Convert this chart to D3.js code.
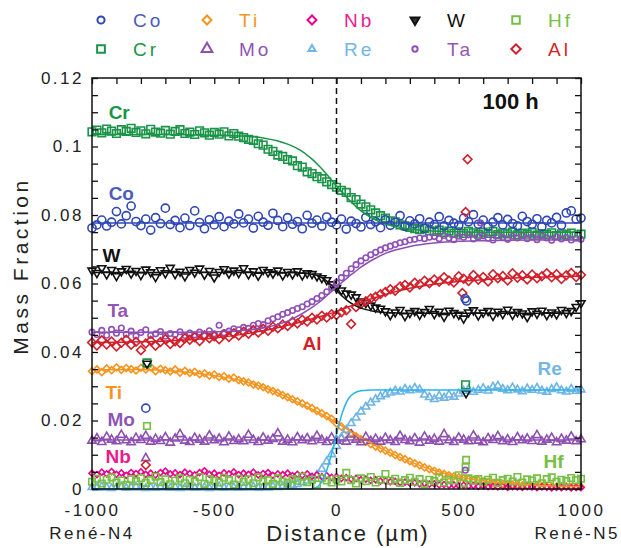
<!DOCTYPE html>
<html>
<head>
<meta charset="utf-8">
<script src="https://cdn.jsdelivr.net/npm/d3@7"></script>
<style>
  body { margin: 0; background: #fff; }
  svg { font-family: "Liberation Sans", Arial, sans-serif; }
</style>
</head>
<body>
<svg class="canvasClass" width="621" height="548"></svg>
<script>
// line scan across the René-N4 / René-N5 couple, 100 h
// one reading every 20 um from -1000 to 1000
const scanStart = -1000, scanStep = 20;

const cr = [
  0.1043,0.1048,0.1040,0.1051,0.1045,0.1038,0.1049,0.1044,0.1053,0.1041,
  0.1046,0.1037,0.1050,0.1042,0.1039,0.1047,0.1036,0.1044,0.1049,0.1038,
  0.1042,0.1035,0.1046,0.1040,0.1033,0.1041,0.1036,0.1043,0.1031,0.1038,
  0.1030,0.1026,0.1021,0.1018,0.1008,0.1004,0.0992,0.0986,0.0975,0.0971,
  0.0962,0.0958,0.0944,0.0940,0.0926,0.0921,0.0912,0.0906,0.0897,0.0889,
  0.0881,0.0872,0.0866,0.0851,0.0845,0.0832,0.0824,0.0815,0.0806,0.0798,
  0.0791,0.0783,0.0780,0.0771,0.0768,0.0764,0.0760,0.0757,0.0761,0.0754,
  0.0752,0.0756,0.0749,0.0753,0.0747,0.0751,0.0746,0.0752,0.0748,0.0744,
  0.0750,0.0746,0.0752,0.0743,0.0748,0.0745,0.0750,0.0742,0.0747,0.0744,
  0.0749,0.0741,0.0746,0.0743,0.0748,0.0740,0.0745,0.0742,0.0747,0.0739,
  0.0744];
const co = [
  0.0762,0.0771,0.0785,0.0768,0.0779,0.0810,0.0774,0.0798,0.0826,0.0781,
  0.0769,0.0788,0.0756,0.0792,0.0775,0.0820,0.0772,0.0784,0.0763,0.0791,
  0.0769,0.0812,0.0778,0.0760,0.0786,0.0771,0.0795,0.0766,0.0782,0.0774,
  0.0803,0.0777,0.0788,0.0762,0.0796,0.0779,0.0770,0.0805,0.0784,0.0766,
  0.0792,0.0773,0.0781,0.0760,0.0799,0.0776,0.0785,0.0768,0.0794,0.0779,
  0.0771,0.0788,0.0759,0.0782,0.0775,0.0765,0.0793,0.0772,0.0780,0.0763,
  0.0786,0.0770,0.0778,0.0798,0.0767,0.0783,0.0774,0.0789,0.0761,0.0779,
  0.0772,0.0795,0.0768,0.0784,0.0776,0.0770,0.0791,0.0780,0.0801,0.0773,
  0.0785,0.0766,0.0779,0.0792,0.0771,0.0787,0.0775,0.0768,0.0796,0.0781,
  0.0773,0.0789,0.0766,0.0784,0.0777,0.0793,0.0770,0.0806,0.0812,0.0788,
  0.0791];
const w = [
  0.0638,0.0631,0.0645,0.0627,0.0640,0.0622,0.0636,0.0643,0.0629,0.0637,
  0.0625,0.0641,0.0633,0.0619,0.0639,0.0630,0.0646,0.0628,0.0635,0.0621,
  0.0640,0.0632,0.0644,0.0626,0.0637,0.0618,0.0634,0.0642,0.0629,0.0638,
  0.0631,0.0645,0.0627,0.0636,0.0623,0.0640,0.0633,0.0629,0.0638,0.0624,
  0.0634,0.0627,0.0636,0.0624,0.0630,0.0628,0.0621,0.0616,0.0610,0.0598,
  0.0587,0.0580,0.0571,0.0568,0.0560,0.0548,0.0543,0.0536,0.0530,0.0527,
  0.0519,0.0508,0.0516,0.0523,0.0505,0.0514,0.0520,0.0509,0.0517,0.0526,
  0.0511,0.0518,0.0503,0.0521,0.0514,0.0509,0.0498,0.0516,0.0522,0.0507,
  0.0515,0.0520,0.0506,0.0518,0.0511,0.0524,0.0509,0.0517,0.0513,0.0502,
  0.0519,0.0512,0.0521,0.0508,0.0516,0.0510,0.0523,0.0514,0.0520,0.0532,
  0.0543];
const ta = [
  0.0458,0.0451,0.0463,0.0449,0.0466,0.0455,0.0470,0.0452,0.0461,0.0447,
  0.0457,0.0465,0.0448,0.0453,0.0460,0.0446,0.0454,0.0451,0.0459,0.0448,
  0.0455,0.0450,0.0458,0.0447,0.0462,0.0453,0.0478,0.0456,0.0461,0.0468,
  0.0465,0.0472,0.0469,0.0478,0.0483,0.0480,0.0491,0.0497,0.0503,0.0510,
  0.0515,0.0521,0.0527,0.0532,0.0540,0.0547,0.0556,0.0565,0.0576,0.0588,
  0.0603,0.0617,0.0630,0.0643,0.0655,0.0666,0.0675,0.0684,0.0691,0.0698,
  0.0704,0.0709,0.0714,0.0719,0.0722,0.0727,0.0729,0.0733,0.0731,0.0735,
  0.0737,0.0731,0.0740,0.0733,0.0728,0.0738,0.0735,0.0742,0.0730,0.0736,
  0.0739,0.0732,0.0727,0.0741,0.0734,0.0729,0.0738,0.0733,0.0740,0.0731,
  0.0736,0.0728,0.0739,0.0733,0.0726,0.0737,0.0730,0.0734,0.0727,0.0732,
  0.0729];
const al = [
  0.0428,0.0419,0.0434,0.0422,0.0431,0.0416,0.0427,0.0436,0.0421,0.0430,
  0.0405,0.0425,0.0433,0.0418,0.0429,0.0437,0.0423,0.0431,0.0426,0.0440,
  0.0436,0.0443,0.0432,0.0449,0.0440,0.0446,0.0437,0.0452,0.0444,0.0455,
  0.0448,0.0459,0.0453,0.0464,0.0457,0.0468,0.0462,0.0474,0.0469,0.0480,
  0.0476,0.0488,0.0483,0.0494,0.0489,0.0500,0.0495,0.0506,0.0501,0.0510,
  0.0508,0.0516,0.0522,0.0482,0.0531,0.0540,0.0548,0.0556,0.0561,0.0569,
  0.0575,0.0583,0.0579,0.0591,0.0596,0.0588,0.0602,0.0597,0.0608,0.0601,
  0.0612,0.0605,0.0618,0.0609,0.0603,0.0621,0.0614,0.0607,0.0625,0.0611,
  0.0619,0.0606,0.0627,0.0615,0.0622,0.0609,0.0630,0.0617,0.0624,0.0612,
  0.0626,0.0615,0.0621,0.0630,0.0618,0.0627,0.0613,0.0624,0.0631,0.0619,
  0.0625];
const ti = [
  0.0344,0.0349,0.0341,0.0352,0.0347,0.0355,0.0348,0.0353,0.0350,0.0346,
  0.0354,0.0349,0.0356,0.0344,0.0351,0.0347,0.0343,0.0349,0.0340,0.0345,
  0.0339,0.0342,0.0335,0.0338,0.0331,0.0334,0.0327,0.0329,0.0322,0.0325,
  0.0318,0.0314,0.0311,0.0305,0.0302,0.0297,0.0291,0.0286,0.0281,0.0274,
  0.0268,0.0262,0.0256,0.0250,0.0243,0.0236,0.0228,0.0221,0.0213,0.0205,
  0.0191,0.0182,0.0172,0.0163,0.0154,0.0145,0.0138,0.0131,0.0124,0.0118,
  0.0112,0.0106,0.0099,0.0093,0.0087,0.0081,0.0075,0.0069,0.0063,0.0058,
  0.0053,0.0048,0.0044,0.0040,0.0037,0.0034,0.0032,0.0029,0.0027,0.0025,
  0.0022,0.0020,0.0018,0.0017,0.0015,0.0014,0.0013,0.0012,0.0011,0.0010,
  0.0010,0.0009,0.0009,0.0008,0.0008,0.0007,0.0007,0.0007,0.0006,0.0006,
  0.0006];
const mo = [
  0.0141,0.0148,0.0137,0.0152,0.0144,0.0139,0.0158,0.0142,0.0136,0.0149,
  0.0143,0.0155,0.0138,0.0146,0.0140,0.0151,0.0135,0.0147,0.0160,0.0141,
  0.0137,0.0149,0.0144,0.0138,0.0156,0.0142,0.0147,0.0136,0.0153,0.0140,
  0.0145,0.0139,0.0158,0.0143,0.0137,0.0150,0.0141,0.0146,0.0162,0.0138,
  0.0144,0.0136,0.0151,0.0142,0.0148,0.0139,0.0155,0.0143,0.0137,0.0150,
  0.0141,0.0147,0.0138,0.0159,0.0144,0.0136,0.0152,0.0140,0.0146,0.0138,
  0.0149,0.0142,0.0137,0.0155,0.0143,0.0139,0.0148,0.0135,0.0153,0.0141,
  0.0146,0.0138,0.0160,0.0142,0.0137,0.0150,0.0144,0.0139,0.0156,0.0141,
  0.0136,0.0148,0.0143,0.0154,0.0139,0.0145,0.0137,0.0151,0.0142,0.0147,
  0.0140,0.0157,0.0138,0.0144,0.0149,0.0136,0.0146,0.0141,0.0153,0.0139,
  0.0145];
const re = [
  0.0005,0.0003,0.0006,0.0004,0.0002,0.0005,0.0007,0.0003,0.0004,0.0006,
  0.0004,0.0002,0.0005,0.0003,0.0006,0.0004,0.0003,0.0005,0.0002,0.0004,
  0.0006,0.0003,0.0004,0.0005,0.0002,0.0004,0.0006,0.0003,0.0005,0.0004,
  0.0003,0.0005,0.0004,0.0006,0.0003,0.0005,0.0004,0.0007,0.0005,0.0008,
  0.0009,0.0011,0.0014,0.0019,0.0024,0.0031,0.0041,0.0058,0.0080,0.0101,
  0.0125,0.0150,0.0172,0.0192,0.0208,0.0226,0.0240,0.0252,0.0262,0.0270,
  0.0276,0.0281,0.0287,0.0284,0.0292,0.0288,0.0295,0.0290,0.0275,0.0268,
  0.0262,0.0272,0.0266,0.0275,0.0269,0.0278,0.0286,0.0291,0.0283,0.0289,
  0.0294,0.0287,0.0298,0.0301,0.0292,0.0288,0.0296,0.0290,0.0285,0.0293,
  0.0289,0.0295,0.0287,0.0283,0.0291,0.0297,0.0288,0.0284,0.0292,0.0286,
  0.0290];
const nb = [
  0.0046,0.0042,0.0049,0.0044,0.0051,0.0043,0.0047,0.0040,0.0048,0.0045,
  0.0050,0.0043,0.0046,0.0041,0.0048,0.0052,0.0044,0.0047,0.0042,0.0049,
  0.0045,0.0041,0.0048,0.0053,0.0043,0.0046,0.0040,0.0047,0.0044,0.0050,
  0.0042,0.0046,0.0043,0.0049,0.0041,0.0045,0.0048,0.0040,0.0044,0.0042,
  0.0046,0.0039,0.0043,0.0040,0.0044,0.0037,0.0041,0.0036,0.0039,0.0034,
  0.0036,0.0031,0.0033,0.0029,0.0031,0.0027,0.0029,0.0025,0.0027,0.0023,
  0.0024,0.0021,0.0022,0.0019,0.0020,0.0017,0.0018,0.0015,0.0016,0.0014,
  0.0015,0.0012,0.0013,0.0011,0.0012,0.0010,0.0011,0.0009,0.0010,0.0008,
  0.0009,0.0007,0.0008,0.0006,0.0008,0.0005,0.0007,0.0006,0.0005,0.0007,
  0.0006,0.0004,0.0006,0.0005,0.0003,0.0005,0.0004,0.0006,0.0003,0.0005,
  0.0004];
const hf = [
  0.0021,0.0030,0.0016,0.0027,0.0034,0.0019,0.0025,0.0012,0.0029,0.0023,
  0.0032,0.0018,0.0026,0.0036,0.0020,0.0028,0.0014,0.0024,0.0031,0.0017,
  0.0027,0.0022,0.0035,0.0015,0.0029,0.0024,0.0019,0.0033,0.0026,0.0013,
  0.0030,0.0021,0.0028,0.0017,0.0034,0.0023,0.0026,0.0015,0.0031,0.0022,
  0.0018,0.0029,0.0024,0.0036,0.0020,0.0027,0.0013,0.0032,0.0025,0.0019,
  0.0028,0.0022,0.0047,0.0026,0.0016,0.0031,0.0023,0.0035,0.0019,0.0027,
  0.0044,0.0024,0.0030,0.0018,0.0026,0.0033,0.0021,0.0029,0.0015,0.0027,
  0.0023,0.0034,0.0019,0.0028,0.0025,0.0040,0.0017,0.0031,0.0024,0.0029,
  0.0020,0.0027,0.0033,0.0018,0.0026,0.0030,0.0022,0.0035,0.0019,0.0028,
  0.0025,0.0031,0.0017,0.0029,0.0034,0.0021,0.0027,0.0023,0.0032,0.0026,
  0.0030];

// stray readings on two particles
const strayEl = ["Cr","W","Co","Hf","Mo","Al","Al","Al","Al","Co","Co","Cr","W","Hf","Hf","Ta","Ta"];
const strayX  = [-775,-775,-780,-775,-780,-780,536,528,515,526,532,528,530,530,528,527,589];
const strayV  = [0.0368,0.0366,0.0236,0.0184,0.0090,0.0070,0.0963,0.0809,0.0572,0.0556,0.0549,0.0304,0.0280,0.0085,0.0064,0.0055,0.0777];

// fitted profiles
const fitX  = [-1000,-800,-600,-500,-400,-300,-200,-150,-100,-75,-50,-25,0,25,50,75,100,150,200,300,400,500,600,800,1000];
const fitCr = [0.1035,0.1035,0.1034,0.1033,0.1031,0.1025,0.1007,0.0990,0.0963,0.0946,0.0927,0.0906,0.0885,0.0865,0.0845,0.0828,0.0812,0.0789,0.0774,0.0759,0.0753,0.0751,0.0750,0.0750,0.0750];
const fitCo = [0.0777,0.0777,0.0777,0.0777,0.0777,0.0777,0.0777,0.0777,0.0777,0.0777,0.0777,0.0777,0.0777,0.0777,0.0777,0.0777,0.0777,0.0777,0.0777,0.0777,0.0777,0.0777,0.0777,0.0777,0.0777];
const fitW  = [0.0632,0.0632,0.0632,0.0632,0.0632,0.0632,0.0632,0.0631,0.0627,0.0622,0.0613,0.0598,0.0580,0.0562,0.0547,0.0536,0.0528,0.0519,0.0515,0.0513,0.0513,0.0513,0.0513,0.0513,0.0513];
const fitTa = [0.0458,0.0458,0.0458,0.0459,0.0462,0.0470,0.0490,0.0508,0.0530,0.0543,0.0558,0.0574,0.0590,0.0605,0.0620,0.0634,0.0648,0.0670,0.0688,0.0708,0.0718,0.0723,0.0725,0.0727,0.0727];
const fitAl = [0.0428,0.0430,0.0436,0.0441,0.0450,0.0462,0.0478,0.0487,0.0497,0.0502,0.0507,0.0512,0.0518,0.0525,0.0532,0.0539,0.0545,0.0557,0.0568,0.0586,0.0598,0.0606,0.0611,0.0618,0.0622];
const fitTi = [0.0348,0.0349,0.0340,0.0331,0.0318,0.0297,0.0268,0.0250,0.0233,0.0224,0.0215,0.0205,0.0194,0.0183,0.0172,0.0160,0.0149,0.0130,0.0112,0.0080,0.0054,0.0036,0.0024,0.0012,0.0007];
const fitMo = [0.0143,0.0143,0.0143,0.0143,0.0143,0.0143,0.0143,0.0143,0.0143,0.0143,0.0143,0.0143,0.0143,0.0143,0.0143,0.0143,0.0143,0.0143,0.0143,0.0143,0.0143,0.0143,0.0143,0.0143,0.0143];
const fitRe = [0,0,0,0,0,0,0,0,0.0001,0.0008,0.0035,0.0090,0.0160,0.0225,0.0265,0.0281,0.0287,0.0289,0.0289,0.0289,0.0289,0.0289,0.0289,0.0289,0.0289];

const legendRows = [["Co","Ti","Nb","W","Hf"], ["Cr","Mo","Re","Ta","Al"]];

// marker look per element
const style = {
  Co: {sym: "circle",   size: 52, color: "#2f47b5", text: "#4b5cc0"},
  Cr: {sym: "square",   size: 58, color: "#1a9447", text: "#1a9447"},
  W:  {sym: "triDown",  size: 28, color: "#111111", text: "#111111"},
  Ta: {sym: "circle",   size: 24, color: "#9050b8", text: "#9356b8"},
  Al: {sym: "diamond",  size: 38, color: "#d21f2a", text: "#d21f2a"},
  Ti: {sym: "diamond",  size: 24, color: "#f7941d", text: "#f7941d"},
  Mo: {sym: "triUp",    size: 30, color: "#8e4fb2", text: "#8e55b5"},
  Re: {sym: "triUp",    size: 26, color: "#6fb4e6", text: "#73b6e6"},
  Nb: {sym: "diamond",  size: 18, color: "#ec008c", text: "#ec1c8c"},
  Hf: {sym: "square",   size: 42, color: "#76c043", text: "#76c043"}
};
// legend symbol sizes
const legendSize = {Co: 40, Ti: 40, Nb: 40, W: 34, Hf: 56, Cr: 60, Mo: 50, Re: 22, Ta: 22, Al: 44};

function setupDom(){
  let svg = d3.select(".canvasClass"),
      left = 92, right = 581, top = 78, bottom = 489;

  let x = d3.scaleLinear().domain([-1000, 1000]).range([left, right]);
  let y = d3.scaleLinear().domain([0, 0.12]).range([bottom, top]);

  let symPath = function(name, size){
    let t = {circle: d3.symbolCircle, square: d3.symbolSquare, diamond: d3.symbolSquare,
             triUp: d3.symbolTriangle, triDown: d3.symbolTriangle}[name];
    return d3.symbol().type(t).size(size)();
  };
  let symRot = function(name){
    if (name == "diamond") return " rotate(45)";
    if (name == "triDown") return " rotate(180)";
    return "";
  };

  let drawPoints = function(el, xs, vs){
    let s = style[el];
    svg.append("g")
      .selectAll("path")
      .data(vs)
      .enter()
      .append("path")
      .attr("d", symPath(s.sym, s.size))
      .attr("transform", (d, i) => "translate(" + x(xs[i]) + "," + y(d) + ")" + symRot(s.sym))
      .attr("fill", "none")
      .attr("stroke", s.color)
      .attr("stroke-width", 1.6);
  };

  let scanX = d3.range(101).map(i => scanStart + i * scanStep);
  let series = [["Cr", cr], ["Co", co], ["W", w], ["Ta", ta], ["Al", al],
                ["Ti", ti], ["Mo", mo], ["Re", re], ["Nb", nb], ["Hf", hf]];
  series.forEach(sr => drawPoints(sr[0], scanX, sr[1]));

  strayEl.forEach(function(el, i){
    drawPoints(el, [strayX[i]], [strayV[i]]);
  });

  // fitted curves on top
  let line = d3.line().curve(d3.curveMonotoneX).x((d, i) => x(fitX[i])).y(d => y(d));
  let fits = [[fitCr, "#1a9447"], [fitCo, "#2f47b5"], [fitW, "#111"], [fitTa, "#8e4fb2"],
              [fitAl, "#d21f2a"], [fitTi, "#f7941d"], [fitMo, "#8e4fb2"], [fitRe, "#27b5ea"]];
  fits.forEach(function(f){
    svg.append("path")
      .attr("d", line(f[0]))
      .attr("fill", "none")
      .attr("stroke", f[1])
      .attr("stroke-width", 1.5);
  });

  // interface
  svg.append("line")
    .attr("x1", x(0)).attr("x2", x(0))
    .attr("y1", top).attr("y2", bottom)
    .attr("stroke", "#111")
    .attr("stroke-width", 1.5)
    .attr("stroke-dasharray", "6,4");

  // frame and inward ticks
  svg.append("rect")
    .attr("x", left).attr("y", top)
    .attr("width", right - left).attr("height", bottom - top)
    .attr("fill", "none").attr("stroke", "#111").attr("stroke-width", 1.5);

  let xTicks = d3.range(21).map(i => -1000 + i * 100);
  let yTicks = d3.range(25).map(i => i * 5 / 1000);

  let styleAxis = function(g){
    g.select(".domain").remove();
    g.selectAll(".tick line").attr("stroke", "#111").attr("stroke-width", 1.3);
    g.selectAll("text")
      .attr("fill", "#222")
      .style("font-size", "17px")
      .style("letter-spacing", "2.5px");
  };

  svg.append("g")
    .attr("transform", "translate(0," + bottom + ")")
    .call(d3.axisBottom(x).tickValues(xTicks).tickSize(-6).tickPadding(15)
      .tickFormat(d => d % 500 == 0 ? d : ""))
    .call(styleAxis);
  svg.append("g")
    .attr("transform", "translate(0," + top + ")")
    .call(d3.axisTop(x).tickValues(xTicks).tickSize(-6).tickFormat(""))
    .call(styleAxis);
  svg.append("g")
    .attr("transform", "translate(" + left + ",0)")
    .call(d3.axisLeft(y).tickValues(yTicks).tickSize(-6).tickPadding(8)
      .tickFormat(d => Math.round(d * 1000) % 20 == 0 ? d3.format("~g")(d) : ""))
    .call(styleAxis);
  svg.append("g")
    .attr("transform", "translate(" + right + ",0)")
    .call(d3.axisRight(y).tickValues(yTicks).tickSize(-6).tickFormat(""))
    .call(styleAxis);

  // axis titles
  svg.append("text")
    .attr("transform", "translate(27.5,266) rotate(-90)")
    .attr("text-anchor", "middle")
    .style("font-size", "21px").style("letter-spacing", "3.5px")
    .attr("fill", "#222")
    .text("Mass Fraction");
  svg.append("text")
    .attr("x", 348).attr("y", 541)
    .attr("text-anchor", "middle")
    .style("font-size", "22px").style("letter-spacing", "2px")
    .attr("fill", "#222")
    .text("Distance (\u00b5m)");
  svg.append("text")
    .attr("x", x(-1000)).attr("y", 539)
    .attr("text-anchor", "middle")
    .style("font-size", "17px").style("letter-spacing", "2.5px")
    .attr("fill", "#222")
    .text("René-N4");
  svg.append("text")
    .attr("x", 620).attr("y", 539)
    .attr("text-anchor", "end")
    .style("font-size", "17px").style("letter-spacing", "2.5px")
    .attr("fill", "#222")
    .text("René-N5");

  // element labels inside the plot (left edge, mid height)
  let labels = [["Cr", -932, 0.110], ["Co", -932, 0.0864], ["W", -957, 0.0683], ["Ta", -937, 0.0523],
                ["Al", -139, 0.0426], ["Ti", -945, 0.0283], ["Mo", -937, 0.0204], ["Nb", -945, 0.0096],
                ["Re", 822, 0.0353], ["Hf", 847, 0.0082]];
  labels.forEach(function(l){
    svg.append("text")
      .attr("x", x(l[1])).attr("y", y(l[2]))
      .attr("dy", "0.36em")
      .style("font-size", "19px").style("font-weight", "bold")
      .attr("fill", style[l[0]].text)
      .text(l[0]);
  });
  svg.append("text")
    .attr("x", x(597)).attr("y", y(0.1133))
    .attr("dy", "0.36em")
    .style("font-size", "22px").style("font-weight", "bold")
    .attr("fill", "#111")
    .text("100 h");

  // legend
  let legX = [101, 207, 312, 415, 516], legY = [20, 49];
  legendRows.forEach(function(row, r){
    row.forEach(function(el, c){
      let s = style[el];
      svg.append("path")
        .attr("d", symPath(s.sym, legendSize[el]))
        .attr("transform", "translate(" + legX[c] + "," + legY[r] + ")" + symRot(s.sym))
        .attr("fill", el == "W" ? "#333" : "none")
        .attr("stroke", s.color)
        .attr("stroke-width", 2);
      svg.append("text")
        .attr("x", legX[c] + 32).attr("y", legY[r])
        .attr("dy", "0.36em")
        .style("font-size", "19px").style("letter-spacing", "3px")
        .attr("fill", s.text)
        .text(el);
    });
  });
}

setupDom();
</script>
</body>
</html>
